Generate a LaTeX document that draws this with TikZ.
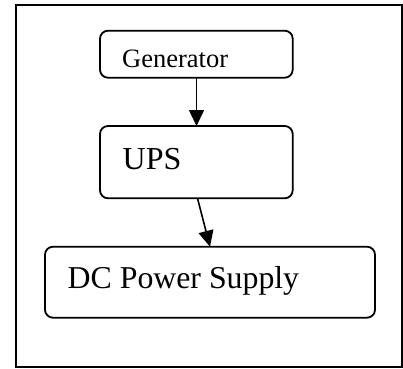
\documentclass[tikz,border=0pt]{standalone}
\usepackage{fontspec}
\setmainfont{Liberation Serif}
\usetikzlibrary{arrows.meta}
\begin{document}
\begin{tikzpicture}[x=1pt,y=-1pt,
  blockbox/.style={draw, line width=1.8pt, rounded corners=8pt, inner sep=0pt, outer sep=0pt},
  caption/.style={anchor=base west, inner sep=0pt},
  flow/.style={line width=1.6pt, -{Triangle[length=16pt,width=15pt]}}]
  \useasboundingbox (0,0) rectangle (403,368);
  % outer frame
  \draw[line width=1.8pt] (16,5) rectangle (401.8,367);
  % blocks
  \node[blockbox, minimum width=192.7pt, minimum height=47pt] (gen) at (196.35,54.2) {};
  \node[blockbox, minimum width=192.7pt, minimum height=72.3pt] (ups) at (196.35,162.15) {};
  \node[blockbox, minimum width=330pt, minimum height=71pt] (dc) at (210,282.2) {};
  % labels
  \node[caption, font=\fontsize{26.5}{30}\selectfont] (tgen) at (122,67) {Generator};
  \node[caption, font=\fontsize{32}{36}\selectfont] (tups) at (122.5,169) {UPS};
  \node[caption, font=\fontsize{31.8}{36}\selectfont] (tdc) at (67.5,288.5) {DC Power Supply};
  % connectors
  \draw[flow] (gen.south -| 196.5,0) -- (ups.north -| 196.5,0);
  \draw[flow] (ups.south -| 197.5,0) -- (dc.north -| 210,0);
\end{tikzpicture}
\end{document}
